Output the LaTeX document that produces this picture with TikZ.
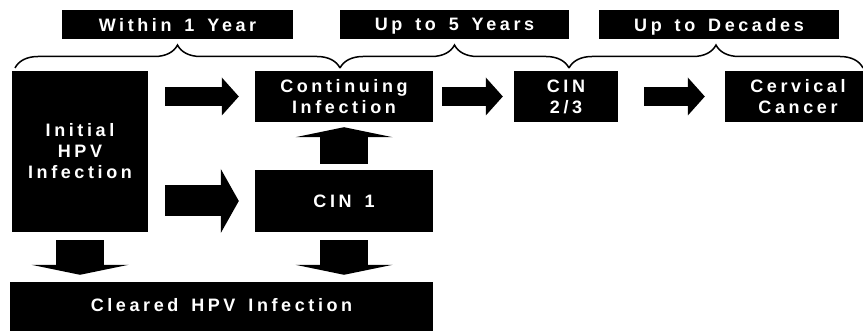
\documentclass[tikz,border=0pt]{standalone}
\usepackage{fontspec}
\newfontfamily\diagfont{Liberation Sans}[LetterSpace=20, WordSpace=1.5]
\usetikzlibrary{arrows.meta, positioning, calc, decorations.pathreplacing}

\begin{document}
\begin{tikzpicture}[x=1pt, y=-1pt,
  font=\diagfont\bfseries\fontsize{18}{21}\selectfont,
  stage/.style={fill=black, text=white, inner sep=0pt, align=center},
  period/.style={stage, minimum height=29pt, text depth=0pt},
  span/.style={decorate, decoration={brace, amplitude=23pt}, line width=1.5pt},
  fat/.style={line width=19pt, -{Triangle[length=17pt, width=38pt, line width=0pt]}},
  wide/.style={line width=31pt, -{Triangle[length=18pt, width=64pt, line width=0pt]}},
  lift/.style={line width=48pt, -{Triangle[length=10pt, width=97pt, line width=0pt]}}
]
\useasboundingbox (0,0) rectangle (863,331);

% stages
\node[stage, minimum width=136pt, minimum height=161pt] (init) at (80,151.5) {Initial\\HPV\\Infection};
\node[stage, minimum width=178pt, minimum height=51pt] (cont) at (344,96.5) {Continuing\\Infection};
\node[stage, minimum width=178pt, minimum height=62pt] (cin1) at (344,201) {CIN 1};
\node[stage, minimum width=104pt, minimum height=51pt] (cin23) at (566,96.5) {CIN\\2/3};
\node[stage, minimum width=146pt, minimum height=51pt] (cancer) at (798,96.5) {Cervical\\Cancer};
\node[stage, minimum width=423pt, minimum height=49pt] (cleared) at (221.5,306.5) {\raisebox{4pt}{Cleared HPV Infection}};

% time spans
\coordinate (s0) at (15,68);
\coordinate (s1) at (340,68);
\coordinate (s2) at (569,68);
\coordinate (s3) at (863,68);
\draw[span] (s0) -- (s1);
\draw[span] (s1) -- (s2);
\draw[span] (s2) -- (s3);
\node[period, minimum width=231pt] (yr1) at (177.5,24.5) {Within 1 Year};
\node[period, minimum width=229pt] (yr5) at (454.5,24.5) {Up to 5 Years};
\node[period, minimum width=240pt] (dec) at (719,24.5) {Up to Decades};

% progression
\draw[fat, shorten <=17pt, shorten >=16pt] (init.east |- cont.west) -- (cont.west);
\draw[wide, shorten <=17pt, shorten >=16pt] (init.east |- cin1.west) -- (cin1.west);
\draw[fat, shorten <=9pt, shorten >=11pt] (cont.east) -- (cin23.west);
\draw[fat, shorten <=26pt, shorten >=20pt] (cin23.east) -- (cancer.west);
\draw[lift, shorten <=6pt, shorten >=5pt] (cin1.north) -- (cont.south);
\draw[lift, shorten <=8pt, shorten >=7pt] (init.south) -- (init.south |- cleared.north);
\draw[lift, shorten <=8pt, shorten >=7pt] (cin1.south) -- (cin1.south |- cleared.north);

\end{tikzpicture}
\end{document}
